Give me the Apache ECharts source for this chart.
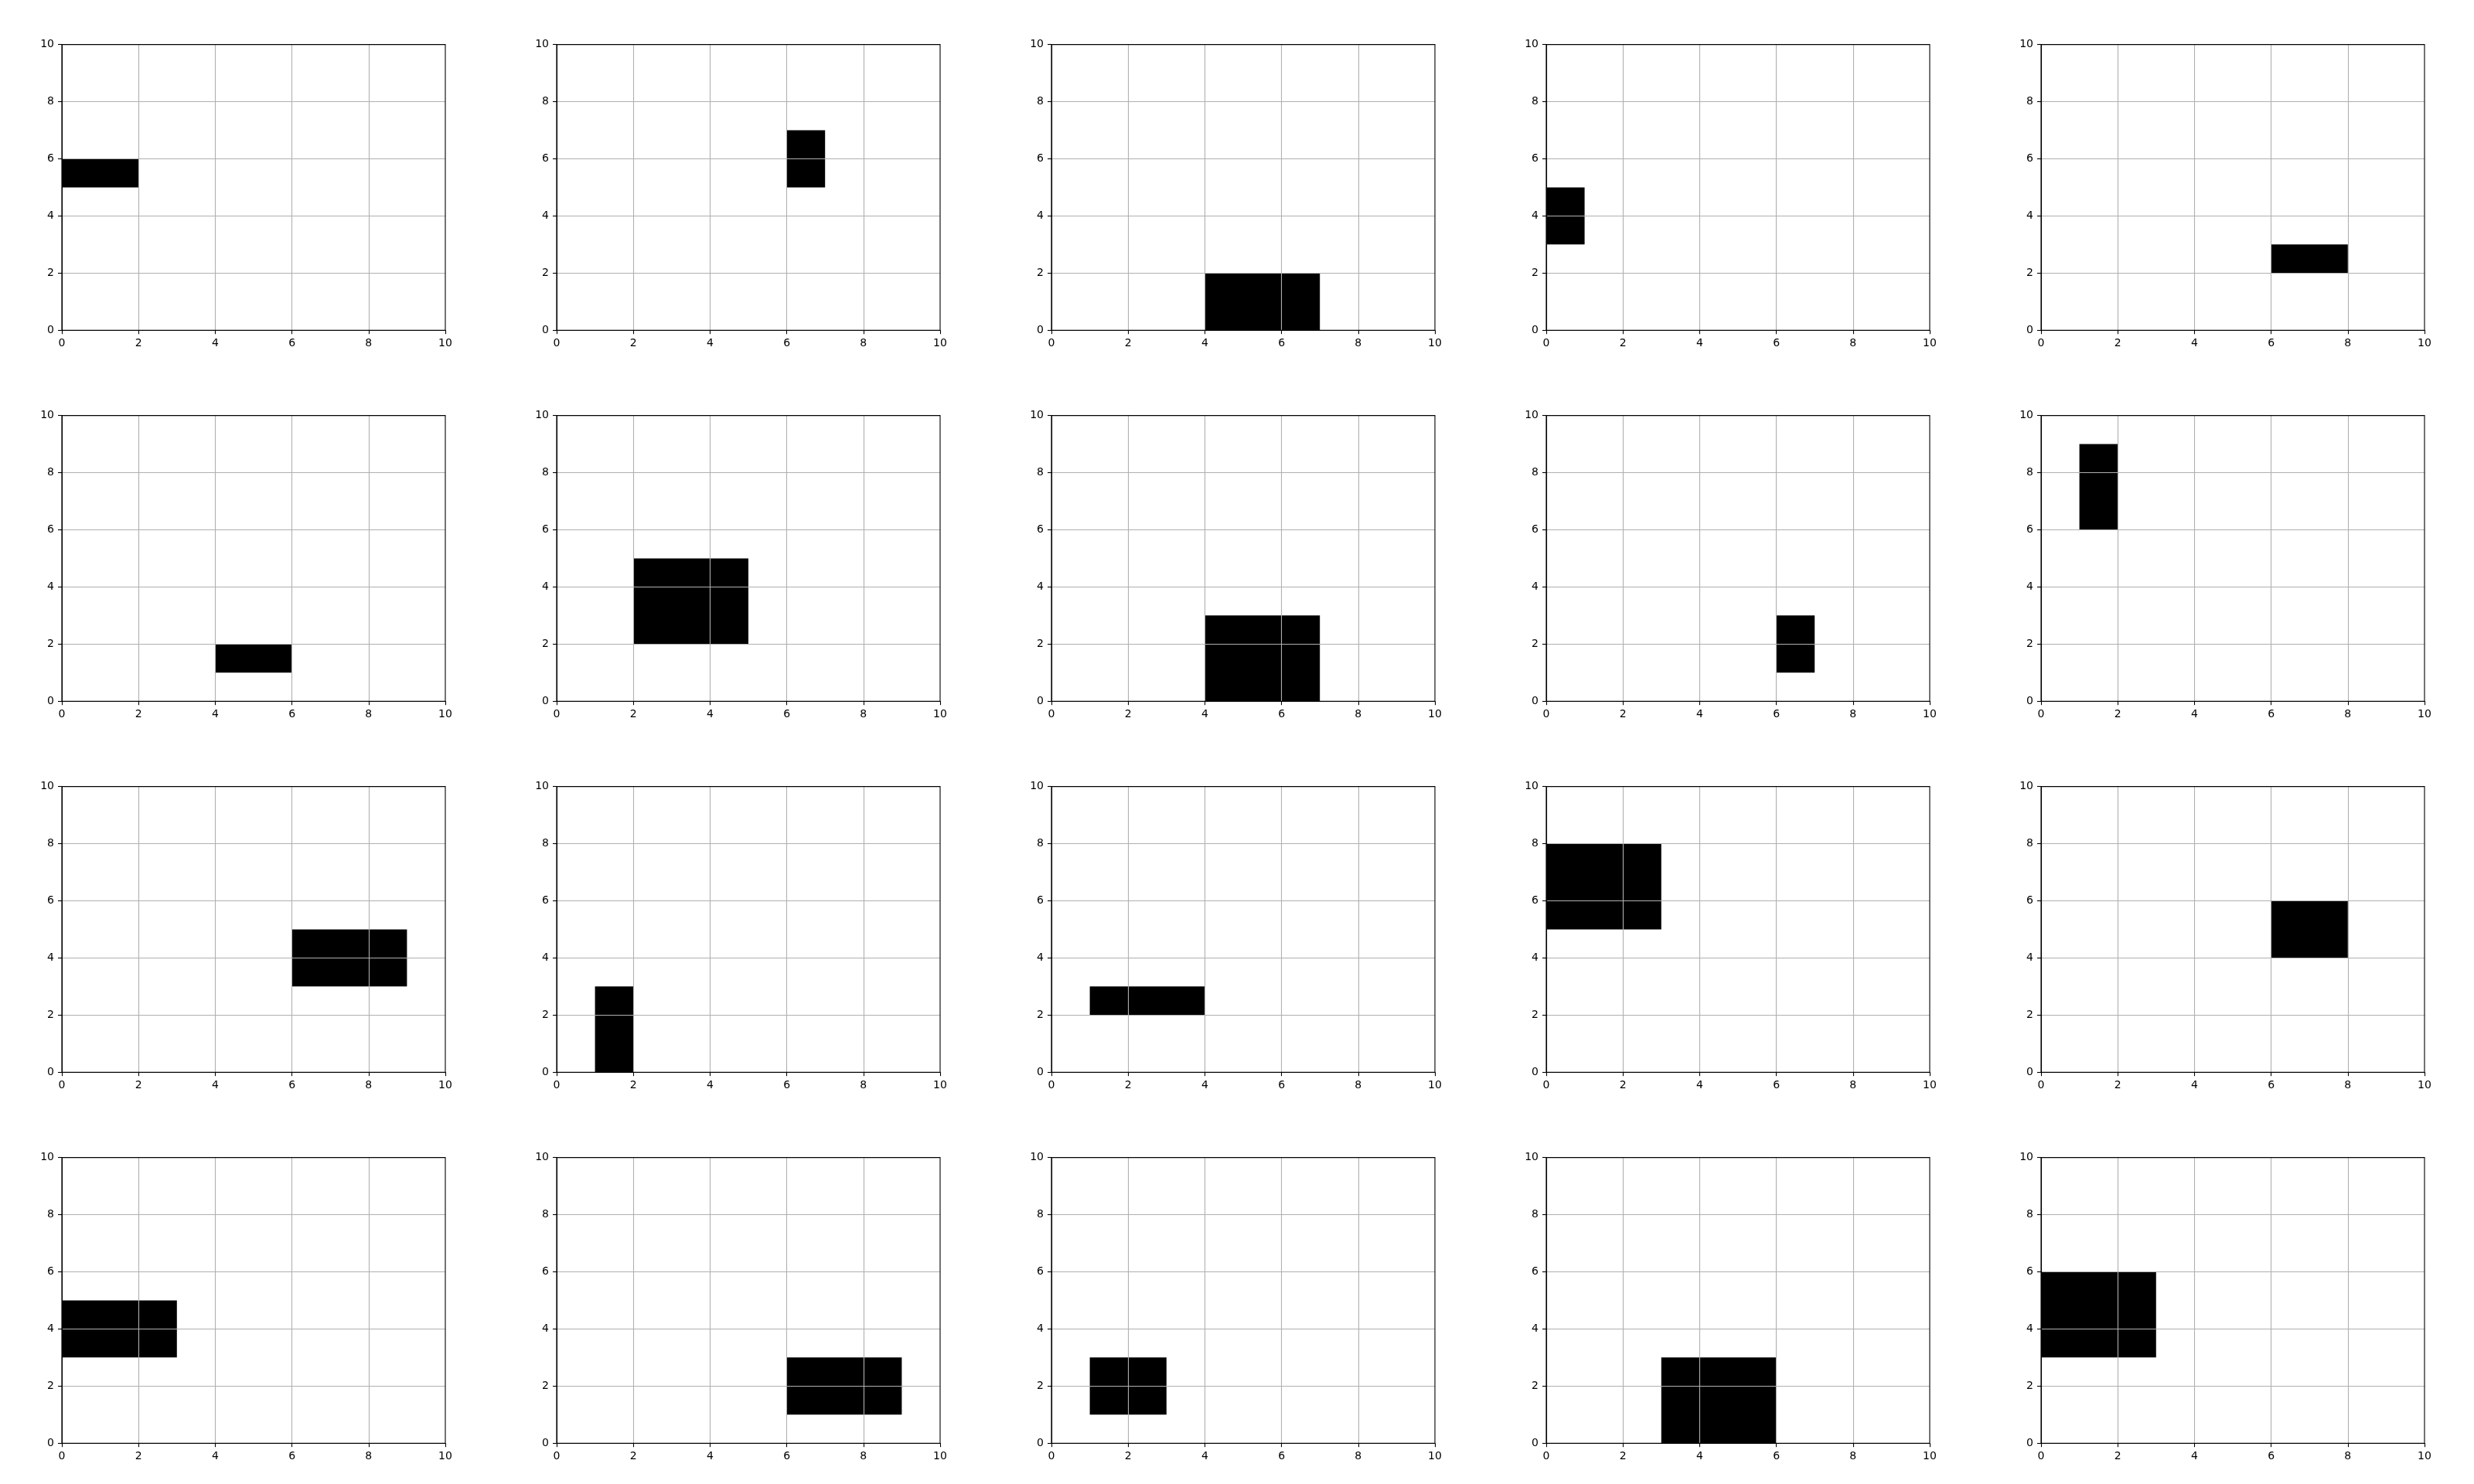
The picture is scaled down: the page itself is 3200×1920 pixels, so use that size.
<!DOCTYPE html>
<html>
<head>
<meta charset="utf-8">
<style>
html,body{margin:0;padding:0;background:#fff;}
#chart{width:3200px;height:1920px;}
</style>
<script src="https://cdn.jsdelivr.net/npm/echarts@6/dist/echarts.min.js"></script>
</head>
<body>
<div id="chart"></div>
<script>
// Rectangles, one per panel (row-major, 4 rows x 5 columns)
var rectX0 = [0, 6, 4, 0, 6,  4, 2, 4, 6, 1,  6, 1, 1, 0, 6,  0, 6, 1, 3, 0];
var rectX1 = [2, 7, 7, 1, 8,  6, 5, 7, 7, 2,  9, 2, 4, 3, 8,  3, 9, 3, 6, 3];
var rectY0 = [5, 5, 0, 3, 2,  1, 2, 0, 1, 6,  3, 0, 2, 5, 4,  3, 1, 1, 0, 3];
var rectY1 = [6, 7, 2, 5, 3,  2, 5, 3, 3, 9,  5, 3, 3, 8, 6,  5, 3, 3, 3, 6];
var axisMin = 0, axisMax = 10, axisStep = 2;
var nRows = 4, nCols = 5;

var cellW = 640, cellH = 480;
var grids = [], xAxes = [], yAxes = [], series = [];
var font = 'DejaVu Sans';

function axisCfg(idx, pos) {
  return {
    type: 'value', gridIndex: idx, min: axisMin, max: axisMax, interval: axisStep,
    position: pos, z: 3,
    axisLine: { show: true, onZero: false, lineStyle: { color: '#000', width: 1.1 } },
    axisTick: { show: true, inside: false, length: 5, lineStyle: { color: '#000', width: 1.1 } },
    axisLabel: { show: true, margin: 10, color: '#000', fontFamily: font, fontSize: 14 },
    splitLine: { show: true, showMinLine: false, showMaxLine: false,
                 lineStyle: { color: '#b0b0b0', width: 1.1 } }
  };
}

for (var i = 0; i < rectX0.length; i++) {
  var r = Math.floor(i / nCols), c = i % nCols;
  grids.push({
    left: c * cellW + 80, top: r * cellH + 57.6, width: 496, height: 369.6,
    show: true, borderColor: '#000', borderWidth: 1.1, backgroundColor: 'transparent', z: 5
  });
  xAxes.push(axisCfg(i, 'bottom'));
  yAxes.push(axisCfg(i, 'left'));
  series.push({
    type: 'custom', xAxisIndex: i, yAxisIndex: i, z: 1,
    data: [[rectX0[i], rectY0[i], rectX1[i], rectY1[i]]],
    renderItem: function (params, api) {
      var p0 = api.coord([api.value(0), api.value(1)]);
      var p1 = api.coord([api.value(2), api.value(3)]);
      return {
        type: 'rect',
        shape: { x: Math.min(p0[0], p1[0]), y: Math.min(p0[1], p1[1]),
                 width: Math.abs(p1[0] - p0[0]), height: Math.abs(p1[1] - p0[1]) },
        style: { fill: '#000' }
      };
    },
    silent: true
  });
}

var chart = echarts.init(document.getElementById('chart'), null, { renderer: 'canvas' });
chart.setOption({
  animation: false,
  backgroundColor: '#fff',
  grid: grids,
  xAxis: xAxes,
  yAxis: yAxes,
  series: series
});
</script>
</body>
</html>
